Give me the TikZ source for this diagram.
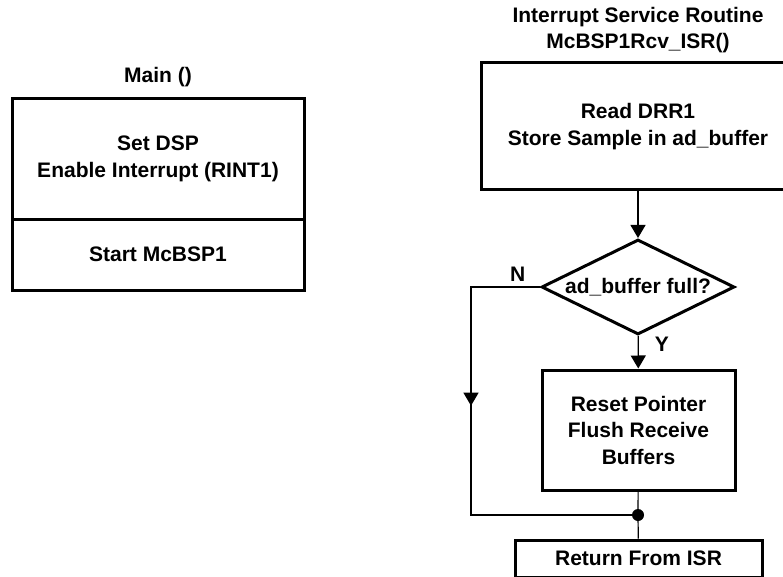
\documentclass[tikz,border=0pt]{standalone}
\usepackage{fontspec}
\setmainfont{Liberation Sans}
\usetikzlibrary{arrows.meta,shapes.geometric,decorations.markings}
\newcommand{\fcfont}{\bfseries\fontsize{21}{26.5}\selectfont}
\tikzset{
  fcbox/.style={draw=black, line width=3pt, align=center, inner sep=0pt, font=\fcfont},
  fcdiamond/.style={diamond, draw=black, line width=3pt, inner sep=0pt,
    minimum width=193pt, minimum height=95pt},
  fclabel/.style={font=\fcfont, inner sep=0pt, align=center},
  fcline/.style={line width=1.2pt, draw=black},
  fcarrow/.style={fcline, -{Triangle[length=13pt,width=15pt]}},
  fcdot/.style={circle, fill=black, inner sep=0pt, minimum size=12pt},
  fcmidarrow/.style={postaction={decorate}, decoration={markings,
    mark=at position #1 with {\arrow{Triangle[length=13pt,width=15pt]}}}}
}

\begin{document}
\begin{tikzpicture}[x=1pt, y=-1pt]
  \clip (0,0) rectangle (783,577);
  % main program
  \node[fclabel] (maintitle) at (158,77) {Main ()};
  \node[fcbox, minimum width=292pt, minimum height=120pt] (setup) at (158,159) {Set DSP\\Enable Interrupt (RINT1)};
  \node[fcbox, minimum width=292pt, minimum height=71pt] (start) at (158,254.5) {Start McBSP1};
  % interrupt service routine
  \node[fclabel] (isrtitle) at (638,30) {Interrupt Service Routine\\McBSP1Rcv\_ISR()};
  \node[fcbox, minimum width=314pt, minimum height=127pt] (read) at (638,126.5) {Read DRR1\\Store Sample in ad\_buffer};
  \node[fcdiamond, label={[fclabel]center:ad\_buffer full?}] (full) at (638,287) {};
  \node[fcbox, minimum width=193pt, minimum height=120pt] (reset) at (638.5,430) {Reset Pointer\\Flush Receive\\Buffers};
  \node[fcdot] (join) at (638,515) {};
  \node[fcbox, minimum width=247pt, minimum height=37pt] (ret) at (638.5,558.5) {Return From ISR};
  \coordinate (nbend) at (471,515);
  \draw[fcarrow] (read) -- (full);
  \draw[fcarrow] (full) -- node[fclabel, right, pos=0.25, xshift=16pt] {Y} (reset);
  \draw[fcline, fcmidarrow=0.41] (full.west) node[fclabel, above left, xshift=-14pt, yshift=5pt] {N} -| (nbend) -- (join);
  \draw[fcline] (reset) -- (join);
  \draw[fcline] (join) -- (ret);
\end{tikzpicture}
\end{document}
